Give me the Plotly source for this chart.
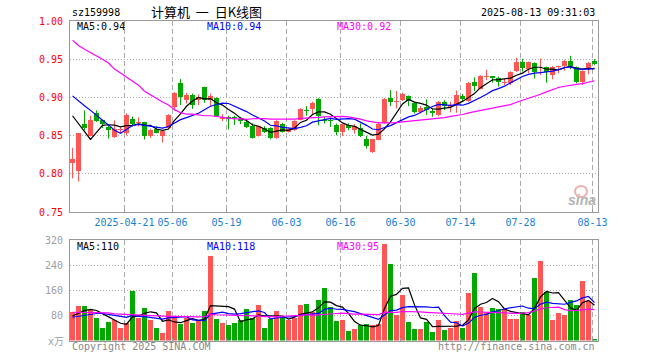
import plotly.graph_objects as go
import pandas as pd

W, H = 660, 360
MONO = "DejaVu Sans Mono"

# ---------------- data ----------------
open_ = [0.814, 0.804, 0.865, 0.850, 0.880, 0.870, 0.861, 0.848, 0.857, 0.854,
         0.872, 0.867, 0.868, 0.850, 0.858, 0.850, 0.860, 0.887, 0.919, 0.896,
         0.903, 0.897, 0.913, 0.8965, 0.899, 0.8715, 0.8745, 0.873, 0.8715, 0.868,
         0.862, 0.850, 0.860, 0.8605, 0.847, 0.865, 0.8549, 0.857, 0.871, 0.8835,
         0.8846, 0.8978, 0.8706, 0.870, 0.8636, 0.8548, 0.8636, 0.857, 0.8605, 0.8452,
         0.8281, 0.8447, 0.8667, 0.8996, 0.8935, 0.8965, 0.9013, 0.8921, 0.8807, 0.8873,
         0.8825, 0.8768, 0.8943, 0.8877, 0.8895, 0.9018, 0.8952, 0.9202, 0.9114, 0.9268,
         0.9281, 0.9259, 0.9193, 0.9184, 0.9351, 0.9469, 0.9368, 0.9447, 0.9325, 0.9395,
         0.9289, 0.9399, 0.9417, 0.9478, 0.9395, 0.9202, 0.9382, 0.9474]
high = [0.834, 0.853, 0.883, 0.876, 0.883, 0.871, 0.865, 0.870, 0.861, 0.879,
        0.875, 0.874, 0.868, 0.859, 0.862, 0.857, 0.878, 0.907, 0.924, 0.906,
        0.905, 0.904, 0.914, 0.905, 0.900, 0.878, 0.876, 0.876, 0.8745, 0.871,
        0.866, 0.863, 0.8623, 0.861, 0.870, 0.8667, 0.8605, 0.870, 0.886, 0.8886,
        0.8943, 0.899, 0.8746, 0.8737, 0.8658, 0.8658, 0.8662, 0.865, 0.8658, 0.8496,
        0.846, 0.868, 0.899, 0.9096, 0.9083, 0.9061, 0.9026, 0.8943, 0.8886, 0.8974,
        0.8855, 0.8952, 0.8965, 0.8943, 0.9088, 0.9044, 0.9202, 0.9263, 0.929, 0.936,
        0.9281, 0.9272, 0.9246, 0.9342, 0.9518, 0.9504, 0.9469, 0.9456, 0.9509, 0.9404,
        0.9412, 0.9412, 0.9491, 0.9544, 0.9404, 0.9355, 0.9465, 0.950]
low = [0.794, 0.790, 0.857, 0.849, 0.868, 0.860, 0.846, 0.847, 0.853, 0.850,
       0.862, 0.862, 0.845, 0.847, 0.853, 0.841, 0.859, 0.883, 0.890, 0.892,
       0.885, 0.890, 0.893, 0.889, 0.876, 0.869, 0.858, 0.864, 0.865, 0.860,
       0.846, 0.8487, 0.8535, 0.845, 0.846, 0.854, 0.854, 0.856, 0.870, 0.876,
       0.8776, 0.8636, 0.8658, 0.8614, 0.8504, 0.8496, 0.857, 0.8526, 0.8482, 0.8329,
       0.8272, 0.8439, 0.8658, 0.8886, 0.8855, 0.8952, 0.8886, 0.8789, 0.8789, 0.8772,
       0.8746, 0.8754, 0.8833, 0.8803, 0.8798, 0.8952, 0.8943, 0.9083, 0.9105, 0.9228,
       0.9193, 0.914, 0.9162, 0.9162, 0.9333, 0.9338, 0.9316, 0.9246, 0.9294, 0.9193,
       0.9237, 0.9316, 0.9351, 0.9368, 0.9184, 0.9162, 0.9303, 0.9421]
close = [0.819, 0.853, 0.860, 0.870, 0.869, 0.865, 0.857, 0.858, 0.858, 0.877,
         0.865, 0.868, 0.850, 0.857, 0.853, 0.856, 0.877, 0.906, 0.900, 0.903,
         0.890, 0.901, 0.896, 0.902, 0.876, 0.8746, 0.872, 0.8725, 0.869, 0.861,
         0.8465, 0.862, 0.8548, 0.847, 0.869, 0.855, 0.8588, 0.869, 0.8846, 0.8828,
         0.893, 0.8754, 0.8693, 0.869, 0.8544, 0.8649, 0.860, 0.8623, 0.849, 0.8368,
         0.8452, 0.8658, 0.8982, 0.8939, 0.894, 0.9048, 0.8952, 0.8811, 0.8855, 0.8833,
         0.879, 0.8939, 0.8886, 0.890, 0.9031, 0.8982, 0.9193, 0.9149, 0.9281, 0.9272,
         0.9254, 0.9206, 0.920, 0.9333, 0.946, 0.939, 0.946, 0.9329, 0.9333, 0.9333,
         0.9395, 0.9404, 0.9478, 0.9417, 0.9206, 0.9346, 0.9456, 0.9439]
volume = [90, 110, 110, 97, 71, 40, 59, 64, 40, 56,
          158, 73, 104, 66, 40, 24, 94, 71, 54, 73,
          56, 64, 94, 269, 69, 56, 50, 56, 66, 101,
          71, 113, 40, 69, 94, 73, 66, 71, 113, 117,
          90, 129, 167, 107, 62, 66, 31, 37, 48, 53,
          48, 53, 307, 244, 82, 145, 59, 37, 37, 59,
          27, 66, 34, 40, 62, 40, 152, 215, 108, 90,
          104, 101, 99, 69, 69, 91, 82, 200, 253, 155,
          66, 88, 82, 129, 114, 188, 126, 5]

# moving-average values before a full window exists
ma5_head = [0.876, 0.866, 0.855, 0.845]
ma10_head = [0.902, 0.895, 0.889, 0.883, 0.876, 0.870, 0.864, 0.857, 0.853]
ma30_head = [0.975, 0.968, 0.963, 0.959, 0.955, 0.950, 0.945, 0.937, 0.932, 0.927,
             0.921, 0.916, 0.908, 0.903, 0.899, 0.894, 0.890, 0.884, 0.880, 0.878,
             0.878, 0.877, 0.876, 0.876, 0.875, 0.874, 0.873, 0.872, 0.872]
vma5_head = [78, 86, 95, 99]
vma10_head = [74, 77, 81, 84, 86, 86, 84, 80, 77]
vma30_head = [90, 90, 89, 89, 88, 88, 88, 85, 84, 83,
              81, 80, 80, 79, 79, 78, 77, 77, 76, 76,
              76, 75, 76, 83, 82, 81, 81, 80, 80]

tick_idx = [9, 17, 26, 36, 45, 55, 65, 75, 87]
tick_labels = ["2025-04-21", "05-06", "05-19", "06-03", "06-16",
               "06-30", "07-14", "07-28", "08-13"]
price_ticks = [0.75, 0.80, 0.85, 0.90, 0.95, 1.00]
vol_ticks = [80, 160, 240, 320]

code = "sz159998"
title = "计算机  一  日K线图"
stamp = "2025-08-13 09:31:03"
price_legend = ["MA5:0.94", "MA10:0.94", "MA30:0.92"]
vol_legend = ["MA5:110", "MA10:118", "MA30:95"]

# ---------------- helpers ----------------
def ma(series, n, head):
    s = pd.Series(series, dtype=float).rolling(n).mean().tolist()
    return list(head) + s[len(head):]

RED = "#ff5555"
GREEN = "#00a800"
GRID = "#aaaaaa"
BORDER = "#999999"

n = len(close)
x = list(range(n))
up = [c >= o for o, c in zip(open_, close)]
colors = [RED if u else GREEN for u in up]

fig = go.Figure()

# wicks
for flag, col in ((True, RED), (False, GREEN)):
    wx, wy = [], []
    for i in range(n):
        if up[i] == flag:
            wx += [i, i, None]
            wy += [low[i], high[i], None]
    fig.add_trace(go.Scatter(x=wx, y=wy, mode="lines", line=dict(color=col, width=1),
                             xaxis="x", yaxis="y", hoverinfo="skip"))

# bodies
fig.add_trace(go.Bar(x=x, base=[min(o, c) for o, c in zip(open_, close)],
                     y=[max(abs(c - o), 0.0013) for o, c in zip(open_, close)],
                     width=5 / 6, marker=dict(color=colors, line=dict(width=0)),
                     xaxis="x", yaxis="y", hoverinfo="skip"))

# price MAs
for vals, col in ((ma(close, 5, ma5_head), "black"),
                  (ma(close, 10, ma10_head), "#0000ff"),
                  (ma(close, 30, ma30_head), "#ff00ff")):
    fig.add_trace(go.Scatter(x=x, y=vals, mode="lines", line=dict(color=col, width=1.2),
                             xaxis="x", yaxis="y", hoverinfo="skip"))

# volume
fig.add_trace(go.Bar(x=x, y=volume, width=5 / 6, marker=dict(color=colors, line=dict(width=0)),
                     xaxis="x2", yaxis="y2", hoverinfo="skip"))
for vals, col in ((ma(volume, 5, vma5_head), "black"),
                  (ma(volume, 10, vma10_head), "#0000ff"),
                  (ma(volume, 30, vma30_head), "#ff00ff")):
    fig.add_trace(go.Scatter(x=x, y=vals, mode="lines", line=dict(color=col, width=1.2),
                             xaxis="x2", yaxis="y2", hoverinfo="skip"))

# ---------------- layout ----------------
L, R = 70, 598
xr = [-(72.5 - L) / 6, (n - 1) + (R - (72.5 + 6 * (n - 1))) / 6]
gridx = [t - 1 / 3 for t in tick_idx]

def py(p):
    return 1 - p / H

common_x = dict(domain=[L / W, R / W], range=xr, tickvals=gridx, showgrid=True,
                gridcolor=GRID, griddash="5px,3px", gridwidth=1, zeroline=False,
                showline=True, linecolor=BORDER, linewidth=1, mirror=True,
                ticks="inside", ticklen=3, tickcolor=BORDER, fixedrange=True,
                automargin=False)

fig.update_layout(
    width=W, height=H, margin=dict(l=0, r=0, t=0, b=0, pad=0, autoexpand=False),
    paper_bgcolor="white", plot_bgcolor="white", showlegend=False,
    bargap=0, hovermode=False,
    xaxis=dict(**common_x, anchor="y", ticktext=tick_labels,
               tickfont=dict(family=MONO, size=10, color="#1a7fcf"),
               ticklabelstandoff=1),
    xaxis2=dict(**common_x, anchor="y2", matches="x", showticklabels=False),
    yaxis=dict(domain=[py(212), py(21)], range=[0.75, 1.0], tickvals=price_ticks,
               ticktext=[f"{v:.2f}" for v in price_ticks],
               tickfont=dict(family=MONO, size=10, color="#ff0000"),
               showgrid=True, gridcolor=GRID, griddash="1px,2px", zeroline=False,
               showline=True, linecolor=BORDER, mirror=True, ticks="",
               ticklabelstandoff=4, anchor="x", fixedrange=True, automargin=False),
    yaxis2=dict(domain=[py(340.5), py(240)], range=[0, 320], tickvals=vol_ticks,
                ticktext=[str(v) for v in vol_ticks],
                tickfont=dict(family=MONO, size=10, color="#a0a0a0"),
                showgrid=True, gridcolor=GRID, griddash="1px,2px", zeroline=False,
                showline=True, linecolor=BORDER, mirror=True, ticks="",
                ticklabelstandoff=4, anchor="x2", fixedrange=True, automargin=False),
)

ann = []
def txt(text, xp, yp, color="black", size=10, xanchor="left", family=MONO, **kw):
    ann.append(dict(text=text, x=xp / W, y=py(yp), xref="paper", yref="paper",
                    xanchor=xanchor, yanchor="middle", showarrow=False,
                    font=dict(family=family, size=size, color=color), **kw))

txt(code, 70, 13)
txt(title, 206, 12, size=13, xanchor="center", family="Noto Sans CJK SC")
txt(stamp, 597, 12.5, xanchor="right")
for t, xp, col in zip(price_legend, (75, 205, 335), ("black", "#0000ff", "#ff00ff")):
    txt(t, xp, 26.5, col)
for t, xp, col in zip(vol_legend, (75, 205, 335), ("black", "#0000ff", "#ff00ff")):
    txt(t, xp, 246.5, col)
txt("x万", 66, 341, "#a0a0a0", xanchor="right", family="DejaVu Sans Mono, Noto Sans CJK SC")
txt("Copyright 2025 SINA.COM", 70, 346, "#888888")
txt("http://finance.sina.com.cn", 597, 346, "#888888", xanchor="right")
txt("<b><i>sina</i></b>", 582, 200, "#b4b4b4", size=14, xanchor="center", family="Arial, Liberation Sans")
fig.update_layout(annotations=ann)

fig.add_shape(type="circle", xref="paper", yref="paper",
              x0=575 / W, x1=587 / W, y0=py(197), y1=py(186),
              line=dict(color="#f2b0b0", width=2), fillcolor="rgba(0,0,0,0)")

fig.write_html("out.html", config={"displayModeBar": False, "staticPlot": True},
               post_script="document.body.style.margin='0px';document.body.style.overflow='hidden';")
